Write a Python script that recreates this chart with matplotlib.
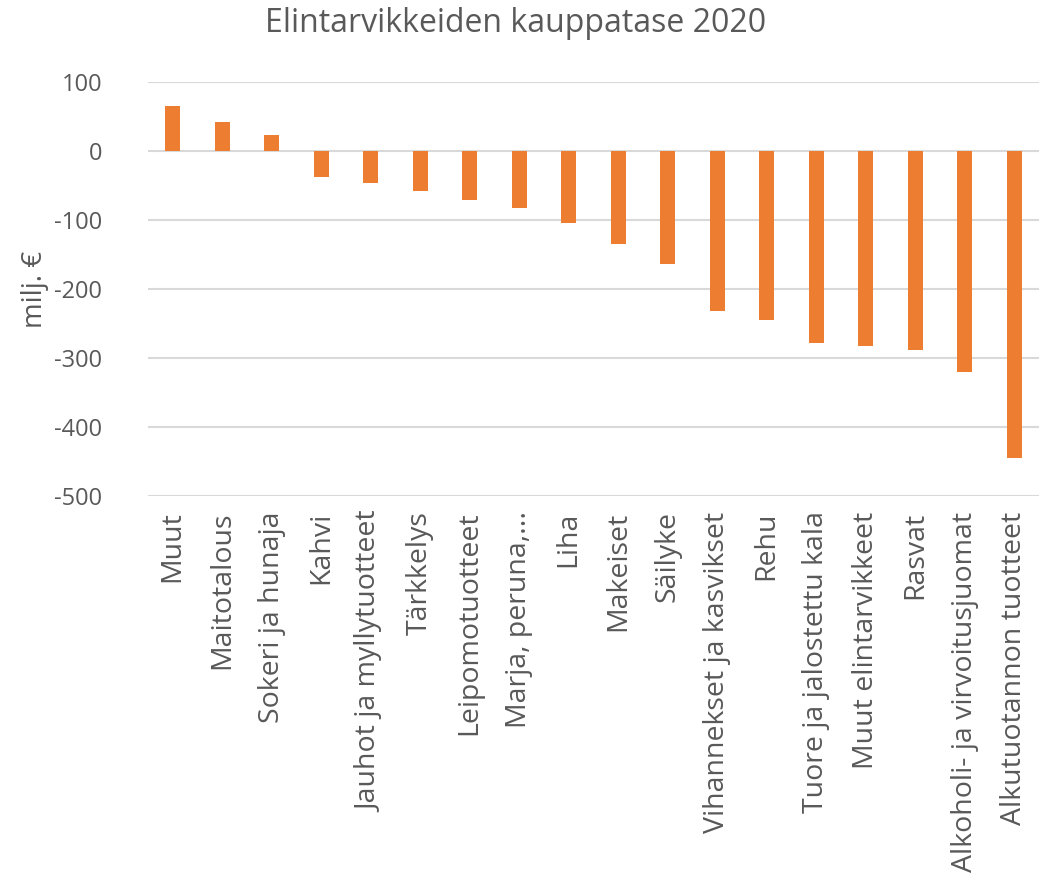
import matplotlib
matplotlib.use("Agg")
import matplotlib.pyplot as plt

categories = [
    "Muut", "Maitotalous", "Sokeri ja hunaja", "Kahvi", "Jauhot ja myllytuotteet",
    "Tärkkelys", "Leipomotuotteet", "Marja, peruna,...", "Liha", "Makeiset",
    "Säilyke", "Vihannekset ja kasvikset", "Rehu", "Tuore ja jalostettu kala",
    "Muut elintarvikkeet", "Rasvat", "Alkoholi- ja virvoitusjuomat", "Alkutuotannon tuotteet",
]
values = [66, 43, 23, -37, -46, -58, -71, -82, -104, -135,
          -164, -232, -245, -278, -283, -288, -320, -445]
yticks = [100, 0, -100, -200, -300, -400, -500]

plt.rcParams["font.family"] = ["Open Sans", "DejaVu Sans"]
text_color = "#595959"

fig = plt.figure(figsize=(10.41, 8.75), dpi=100)
ax = fig.add_axes([0.142, 0.433, 0.856, 0.473])

x = range(len(categories))
ax.bar(x, values, width=0.3, color="#ED7D31", zorder=3)

ax.set_xlim(-0.5, len(categories) - 0.5)
ax.set_ylim(-500, 100)
ax.set_yticks(yticks)
ax.set_yticklabels([str(v) for v in yticks], fontsize=17, color=text_color)
ax.set_xticks(list(x))
ax.set_xticklabels(categories, rotation=90, fontsize=20.5, color=text_color,
                   ha="center", va="top")
ax.tick_params(axis="x", length=0, pad=11)
ax.tick_params(axis="y", length=0, pad=33)

ax.grid(axis="y", color="#D9D9D9", linewidth=1.5, zorder=0)
for s in ax.spines.values():
    s.set_visible(False)

fig.text(35 / 1041, 1 - 289 / 875, "milj. €", rotation=90, ha="center", va="center",
         fontsize=20, color=text_color)
fig.text(516 / 1041, 0.973, "Elintarvikkeiden kauppatase 2020", ha="center", va="center",
         fontsize=23, color=text_color)

fig.savefig("out.png", dpi=100)
